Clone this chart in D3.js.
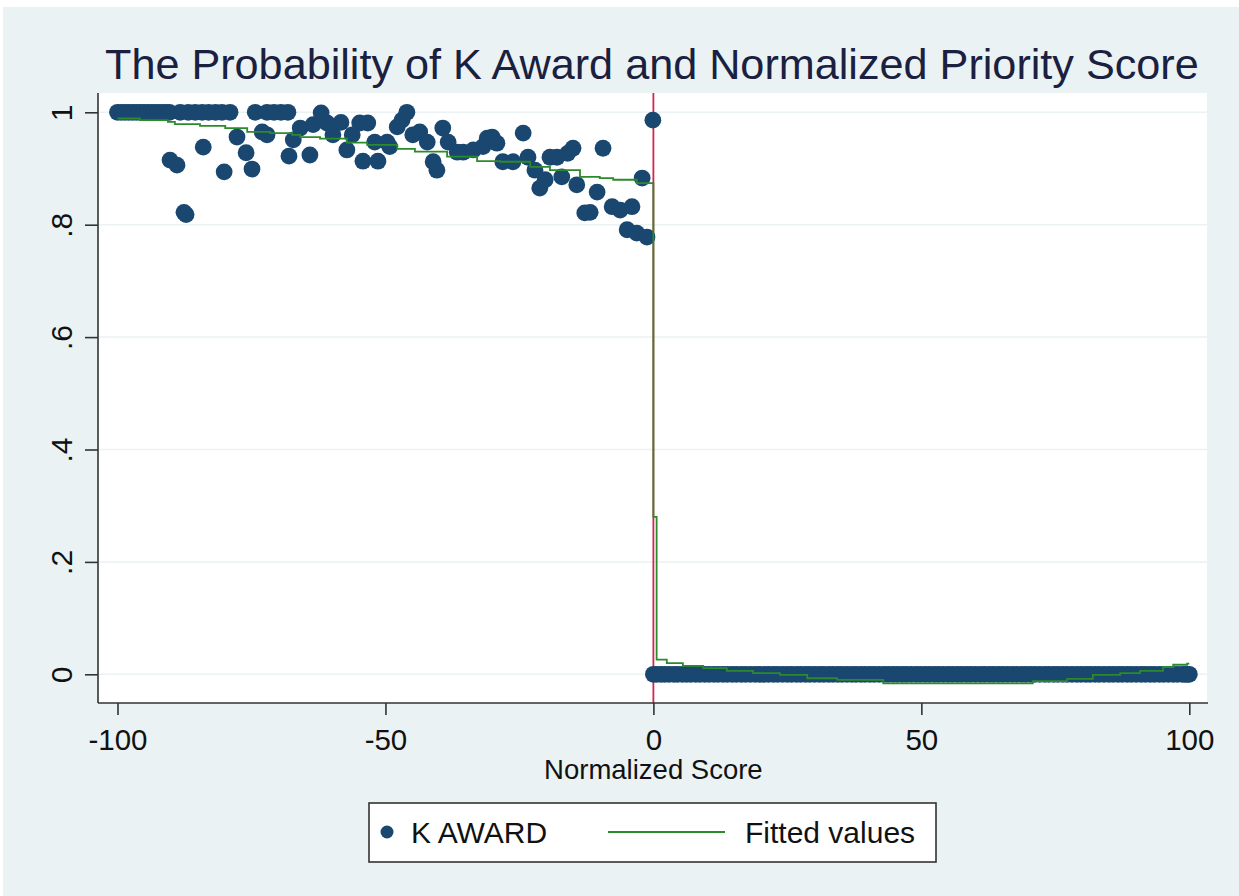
<!DOCTYPE html>
<html><head><meta charset="utf-8">
<script src="https://cdn.jsdelivr.net/npm/d3@7"></script>
<style>body{margin:0;background:#fff}svg{display:block}</style>
</head><body><svg id="c" width="1239" height="896"></svg>
<script>
// ---- data ----
const titleText = "The Probability of K Award and Normalized Priority Score";
const xTitle = "Normalized Score";
const xTicks = [-100, -50, 0, 50, 100];
const yTicks = [0, 0.2, 0.4, 0.6, 0.8, 1];
const yTickLabels = ["0", ".2", ".4", ".6", ".8", "1"];
const cutoff = 0;

// K AWARD, below cutoff
const leftScore = [-100,-99.3,-98.6,-97.9,-97.2,-96.5,-95.8,-95.1,-94.4,-93.7,-93.0,-92.3,-91.6,-90.9,-90.3,
  -88.3,-86.8,-85.5,-84.2,-83.0,-81.7,-80.5,-79.0,-74.3,-72.1,-70.8,-69.5,-68.2,
  -77.7,-73.0,-72.1,-84.0,-76.0,-67.2,-68.0,-90.2,-88.9,-80.1,-74.9,-87.2,-87.6,
  -65.9,-64.1,-63.5,-62.0,-60.9,-59.8,-58.3,-56.2,-57.2,-54.8,-53.3,-54.2,-51.4,-52.0,-49.7,-49.2,
  -47.8,-46.9,-46.0,-44.9,-43.6,-42.2,-41.1,-40.4,-39.3,-38.3,-36.6,-35.5,-33.6,-31.8,-31.0,
  -30.1,-29.2,-28.1,-26.2,-24.3,-23.4,-22.1,-21.2,-20.2,-19.3,-18.0,-17.1,-16.0,-15.0,-14.3,
  -12.8,-11.8,-10.5,-9.4,-7.7,-6.2,-4.0,-4.9,-3.1,-1.2,-2.1,-0.1];
const leftAward = [1,1,1,1,1,1,1,1,1,1,1,1,1,1,1,
  1,1,1,1,1,1,1,1,1,1,1,1,1,
  0.956,0.965,0.960,0.938,0.928,0.951,0.922,0.915,0.906,0.894,0.899,0.818,0.822,
  0.972,0.924,0.978,0.999,0.981,0.960,0.982,0.960,0.933,0.981,0.981,0.913,0.913,0.947,0.947,0.939,
  0.974,0.986,1.0,0.960,0.965,0.947,0.912,0.897,0.972,0.947,0.929,0.929,0.933,0.939,0.954,
  0.956,0.945,0.912,0.912,0.963,0.920,0.897,0.865,0.880,0.920,0.920,0.885,0.927,0.936,0.871,
  0.821,0.822,0.858,0.936,0.832,0.826,0.832,0.791,0.785,0.778,0.883,0.986];

// K AWARD, above cutoff
const rightScore = [0,0.6,1.4,2.1,2.9,3.8,4.5,5.4,6.2,7.0,
  7.9,8.7,9.6,10.4,11.3,12.1,13.0,13.8,14.7,15.5,
  16.4,17.2,18.1,19.0,19.8,20.7,21.5,22.4,23.2,24.1,
  25.0,25.8,26.7,27.5,28.4,29.2,30.1,31.0,31.8,32.7,
  33.5,34.4,35.2,36.1,37.0,37.8,38.7,39.5,40.4,41.2,
  42.1,43.0,43.8,44.7,45.5,46.4,47.2,48.1,49.0,49.8,
  50.7,51.5,52.4,53.2,54.1,55.0,55.8,56.7,57.5,58.4,
  59.2,60.1,61.0,61.8,62.7,63.5,64.4,65.2,66.1,67.0,
  67.8,68.7,69.5,70.4,71.2,72.1,73.0,73.8,74.7,75.5,
  76.4,77.2,78.1,79.0,79.8,80.7,81.5,82.4,83.2,84.1,
  85.0,85.8,86.7,87.5,88.4,89.2,90.1,91.0,91.8,92.7,
  93.5,94.4,95.2,96.1,97.0,97.8,98.7,99.2,99.6,100.0];
const rightAward = [0,0,0,0,0,0,0,0,0,0, 0,0,0,0,0,0,0,0,0,0, 0,0,0,0,0,0,0,0,0,0,
  0,0,0,0,0,0,0,0,0,0, 0,0,0,0,0,0,0,0,0,0, 0,0,0,0,0,0,0,0,0,0,
  0,0,0,0,0,0,0,0,0,0, 0,0,0,0,0,0,0,0,0,0, 0,0,0,0,0,0,0,0,0,0,
  0,0,0,0,0,0,0,0,0,0, 0,0,0,0,0,0,0,0,0,0, 0,0,0,0,0,0,0,0,0,0];

// Fitted values (step-like)
const fitScore = [-100,-95.8,-90.6,-89.3,-84.6,-79.9,-75.8,-71.5,-67.4,-65.9,-62.2,-57.2,-53.4,-47.8,-44.5,
  -38.5,-32.9,-28.6,-23.0,-19.3,-13.7,-10.0,-7.5,-3.1,0,0,0.6,
  2.5,5.5,9.3,13.7,18.6,23.6,28.7,34.3,42.9,70.8,77.2,82.0,87.1,90.8,95.1,97.0,99.6,100];
const fitValue = [0.989,0.986,0.983,0.979,0.976,0.972,0.965,0.963,0.960,0.956,0.953,0.946,0.942,0.935,0.930,
  0.921,0.913,0.912,0.903,0.897,0.885,0.883,0.880,0.874,0.874,0.28,0.026,
  0.020,0.015,0.011,0.006,0.002,-0.001,-0.007,-0.010,-0.016,-0.012,-0.008,-0.001,0.002,0.006,0.013,0.017,0.019,0.019];

const legendLabels = ["K AWARD", "Fitted values"];

// ---- styles ----
const navy = "#1a476f", green = "#2b8a2b", red = "#cf2750", bg = "#eaf2f3";
const font = "'Liberation Sans', Arial, sans-serif";

const svg = d3.select("#c");
svg.append("rect").attr("x", 3).attr("y", 7).attr("width", 1236).attr("height", 889).attr("fill", bg);

const plot = {left: 98, right: 1207, top: 93, bottom: 703};
const x = d3.scaleLinear().domain([-100, 100]).range([117.5, 1189.3]);
const y = d3.scaleLinear().domain([0, 1]).range([674.3, 112.3]);

svg.append("rect").attr("x", plot.left).attr("y", plot.top)
  .attr("width", plot.right - plot.left).attr("height", plot.bottom - plot.top).attr("fill", "#fff");

// gridlines
svg.append("g").selectAll("line").data(yTicks).join("line")
  .attr("x1", plot.left).attr("x2", plot.right)
  .attr("y1", d => y(d)).attr("y2", d => y(d))
  .attr("stroke", bg).attr("stroke-width", 1.5);

// cutoff line
svg.append("line").attr("x1", x(cutoff)).attr("x2", x(cutoff))
  .attr("y1", plot.top).attr("y2", plot.bottom)
  .attr("stroke", red).attr("stroke-width", 1.8);

// scatter
const pts = leftScore.map((s, i) => [s, leftAward[i]])
  .concat(rightScore.map((s, i) => [s, rightAward[i]]));
svg.append("g").selectAll("circle").data(pts).join("circle")
  .attr("cx", d => x(d[0])).attr("cy", d => y(d[1])).attr("r", 8.4)
  .attr("fill", navy);

// fitted line
const fitPts = fitScore.map((s, i) => [s, fitValue[i]]);
svg.append("path").datum(fitPts)
  .attr("d", d3.line().x(d => x(d[0])).y(d => y(d[1])).curve(d3.curveStepAfter))
  .attr("fill", "none").attr("stroke", green).attr("stroke-width", 1.8);

// axes
const yAxis = d3.axisLeft(y).tickValues(yTicks).tickSize(13).tickFormat((d, i) => yTickLabels[i]);
const gy = svg.append("g").attr("transform", `translate(${plot.left},0)`).call(yAxis);
gy.select(".domain").attr("d", `M0,${plot.top}V${plot.bottom}`).attr("stroke", "#333").attr("stroke-width", 1.6);
gy.selectAll(".tick line").attr("stroke", "#333").attr("stroke-width", 1.6);
gy.selectAll(".tick text").attr("font-family", font).attr("font-size", 30).attr("fill", "#111")
  .attr("text-anchor", "middle").attr("dy", 0).attr("x", 0)
  .attr("transform", "translate(-26,0) rotate(-90)");

const xAxis = d3.axisBottom(x).tickValues(xTicks).tickSize(12).tickFormat(d3.format("d"));
const gx = svg.append("g").attr("transform", `translate(0,${plot.bottom})`).call(xAxis);
gx.select(".domain").attr("d", `M${plot.left},0H${plot.right + 1}`).attr("stroke", "#333").attr("stroke-width", 1.6);
gx.selectAll(".tick line").attr("stroke", "#333").attr("stroke-width", 1.6);
gx.selectAll(".tick text").attr("font-family", font).attr("font-size", 29.5).attr("fill", "#111")
  .attr("y", 47).attr("dy", 0).text(d => d < 0 ? "-" + Math.abs(d) : d);

// axis title
svg.append("text").attr("x", x(0)).attr("y", 779).attr("text-anchor", "middle")
  .attr("font-family", font).attr("font-size", 27.5).attr("fill", "#111").text(xTitle);

// title
svg.append("text").attr("x", 105).attr("y", 79)
  .attr("font-family", font).attr("font-size", 43.2).attr("fill", "#1a2040").text(titleText);

// legend
const lg = svg.append("g");
lg.append("rect").attr("x", 369).attr("y", 803).attr("width", 567).attr("height", 59)
  .attr("fill", "#fff").attr("stroke", "#333").attr("stroke-width", 1.6);
lg.append("circle").attr("cx", 387).attr("cy", 832).attr("r", 6.5).attr("fill", navy);
lg.append("text").attr("x", 411).attr("y", 843).attr("font-family", font).attr("font-size", 30)
  .attr("fill", "#111").text(legendLabels[0]);
lg.append("line").attr("x1", 608).attr("x2", 725).attr("y1", 832).attr("y2", 832)
  .attr("stroke", green).attr("stroke-width", 1.8);
lg.append("text").attr("x", 745).attr("y", 843).attr("font-family", font).attr("font-size", 30)
  .attr("fill", "#111").text(legendLabels[1]);
</script>
</body></html>
